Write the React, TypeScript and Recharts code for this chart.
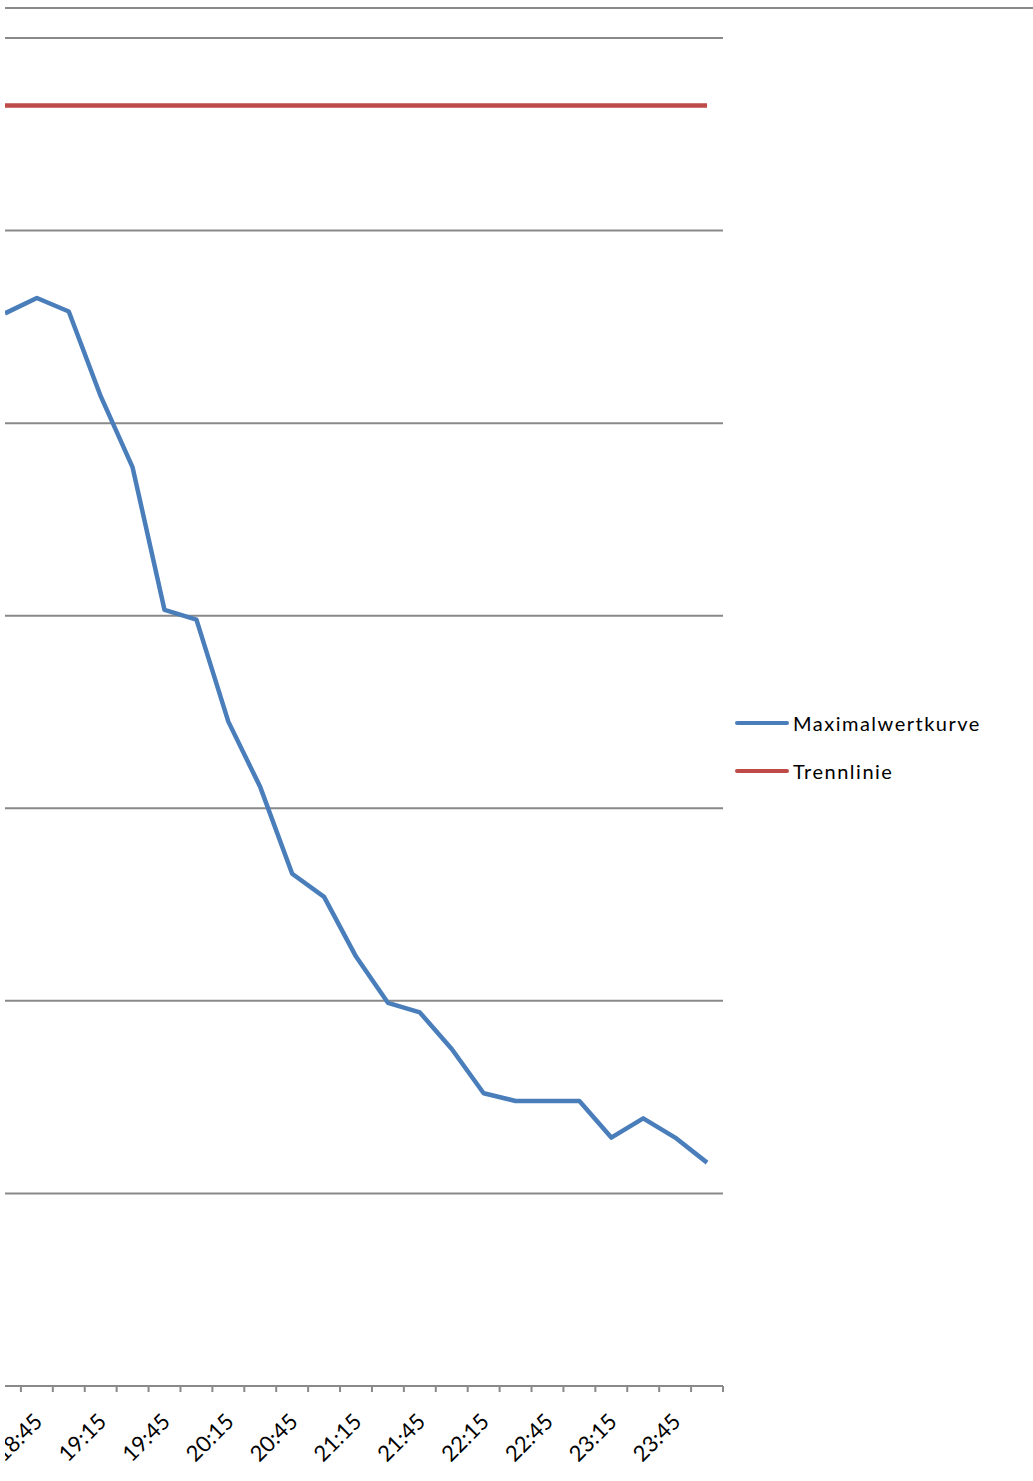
import type { FC } from 'react';
import { LineChart, Line, XAxis, YAxis, CartesianGrid, Legend } from 'recharts';

const times = [
  '18:30', '18:45', '19:00', '19:15', '19:30', '19:45', '20:00', '20:15',
  '20:30', '20:45', '21:00', '21:15', '21:30', '21:45', '22:00', '22:15',
  '22:30', '22:45', '23:00', '23:15', '23:30', '23:45', '00:00',
];
const maxValues = [
  55.7, 56.5, 55.8, 51.4, 47.7, 40.3, 39.8, 34.5, 31.1, 26.6, 25.4, 22.3,
  19.9, 19.4, 17.5, 15.2, 14.8, 14.8, 14.8, 12.9, 13.9, 12.9, 11.6,
];
const trennValue = 66.5;
const yTicks = [0, 10, 20, 30, 40, 50, 60, 70];

const data = times.map((t, i) => ({ i, time: t, max: maxValues[i], trenn: trennValue }));
const boundaryTicks = [...times.map((_, i) => i - 0.5), times.length - 0.5];
const labelTicks = times.map((_, i) => i).filter((i) => i % 2 === 1);

const GRID = '#898989';
const FONT = 'Lato, "Open Sans", sans-serif';

// axis 0 = tick marks between categories, axis 1 = rotated time labels
const MARKS = 0;
const LABELS = 1;

const TimeTick = (props: any) => {
  const { x, y, payload } = props;
  const ax = x + 7;
  const ay = y + 36;
  return (
    <text
      x={ax}
      y={ay}
      textAnchor="end"
      fontSize={22}
      fontFamily={FONT}
      fill="#000"
      transform={`rotate(-45, ${ax}, ${ay})`}
    >
      {times[payload.value]}
    </text>
  );
};

const LegendBox = (props: any) => {
  const items = props.payload ?? [];
  return (
    <div style={{ fontFamily: FONT, fontSize: 20, color: '#000' }}>
      {items.map((it: any) => (
        <div key={it.value} style={{ display: 'flex', alignItems: 'center', height: 48 }}>
          <span style={{ display: 'inline-block', width: 54, height: 4.5, background: it.color, borderRadius: 2 }} />
          <span style={{ marginLeft: 4, letterSpacing: 1.5 }}>{it.value}</span>
        </div>
      ))}
    </div>
  );
};

const App: FC = () => {
  return (
    <div
      style={{
        position: 'absolute',
        left: 5,
        top: 0,
        width: 1028,
        height: 1481,
        overflow: 'hidden',
        background: '#fff',
      }}
    >
      <div style={{ position: 'absolute', left: 0, right: 0, top: 7, height: 2, background: GRID }} />
      <div style={{ position: 'absolute', left: -16, top: 0 }}>
        <LineChart width={1044} height={1481} data={data} margin={{ top: 38, right: 310, left: 0, bottom: 0 }}>
          <CartesianGrid xAxisId={MARKS} vertical={false} stroke={GRID} strokeWidth={2} />
          <XAxis
            xAxisId={MARKS}
            dataKey="i"
            type="number"
            domain={[-0.5, times.length - 0.5]}
            ticks={boundaryTicks}
            interval={0}
            height={1}
            tick={() => <g />}
            tickSize={6}
            axisLine={{ stroke: GRID, strokeWidth: 2 }}
            tickLine={{ stroke: GRID, strokeWidth: 2 }}
          />
          <XAxis
            xAxisId={LABELS}
            dataKey="i"
            type="number"
            domain={[-0.5, times.length - 0.5]}
            ticks={labelTicks}
            interval={0}
            height={94}
            axisLine={false}
            tickLine={false}
            tickSize={0}
            tickMargin={0}
            tick={<TimeTick />}
          />
          <YAxis hide domain={[0, 70]} ticks={yTicks} />
          <Legend
            layout="horizontal"
            align="center"
            verticalAlign="middle"
            wrapperStyle={{ left: 746, top: 699, width: 290 }}
            content={<LegendBox />}
          />
          <Line
            xAxisId={MARKS}
            name="Maximalwertkurve"
            dataKey="max"
            stroke="#4a7ebb"
            strokeWidth={4.5}
            strokeLinejoin="round"
            dot={false}
            isAnimationActive={false}
          />
          <Line
            xAxisId={MARKS}
            name="Trennlinie"
            dataKey="trenn"
            stroke="#be4b48"
            strokeWidth={4.5}
            dot={false}
            isAnimationActive={false}
          />
        </LineChart>
      </div>
    </div>
  );
};

export default App;
